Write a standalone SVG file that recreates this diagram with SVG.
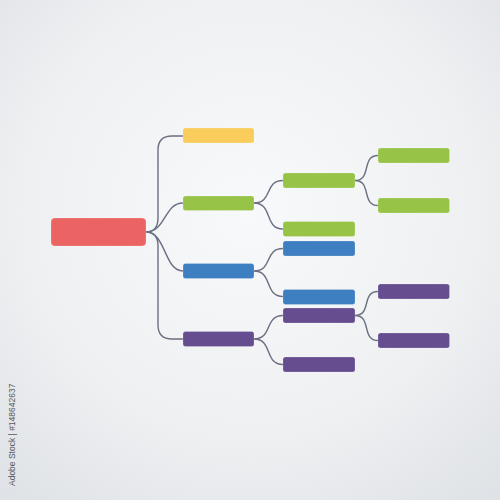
<svg xmlns="http://www.w3.org/2000/svg" width="500" height="500" viewBox="0 0 500 500">
<defs>
<radialGradient id="bg" cx="0.5" cy="0.42" r="0.75">
<stop offset="0" stop-color="#f8f9fb"/>
<stop offset="0.6" stop-color="#eef0f2"/>
<stop offset="1" stop-color="#dfe2e6"/>
</radialGradient>
<style>
.c{fill:none;stroke:#6c6f82;stroke-width:1.4}
.n{stroke:#ffffff;stroke-opacity:0.25;stroke-width:0.8}
.r{fill:#ec6364}
.y{fill:#f9cc5b}
.g{fill:#97c447}
.b{fill:#3d7fc0}
.p{fill:#654d8f}
.t{font-family:"Liberation Sans",Arial,sans-serif;font-size:8.5px;fill:#555a60}
</style>
</defs>
<rect width="500" height="500" fill="url(#bg)"/>
<g id="connectors">
<path class="c" d="M146,232 C154,232 158,228 158,218 L158,150 Q158,136 172,136 L183,136"/>
<path class="c" d="M146,232 C154,232 158,236 158,246 L158,325 Q158,339 172,339 L183,339"/>
<path class="c" d="M146,232 C166,232 164,203 183,203"/>
<path class="c" d="M146,232 C166,232 164,271 183,271"/>
<path class="c" d="M254,203 C273,203 264,180.5 283,180.5"/>
<path class="c" d="M254,203 C273,203 264,229 283,229"/>
<path class="c" d="M254,271 C273,271 264,248.5 283,248.5"/>
<path class="c" d="M254,271 C273,271 264,296.5 283,296.5"/>
<path class="c" d="M254,339 C273,339 264,315.5 283,315.5"/>
<path class="c" d="M254,339 C273,339 264,364.5 283,364.5"/>
<path class="c" d="M355,180.5 C372,180.5 361,155.5 378,155.5"/>
<path class="c" d="M355,180.5 C372,180.5 361,205.5 378,205.5"/>
<path class="c" d="M355,315.5 C372,315.5 361,291.5 378,291.5"/>
<path class="c" d="M355,315.5 C372,315.5 361,340.5 378,340.5"/>
</g>
<g id="root"><rect class="r n" x="51" y="218" width="95" height="28" rx="4"/></g>
<g id="yellow1"><rect class="y n" x="183" y="128" width="71" height="15" rx="2.5"/></g>
<g id="green1"><rect class="g n" x="183" y="196" width="71" height="14.5" rx="2.5"/></g>
<g id="blue1"><rect class="b n" x="183" y="263.5" width="71" height="15" rx="2.5"/></g>
<g id="purple1"><rect class="p n" x="183" y="331.5" width="71" height="15" rx="2.5"/></g>
<g id="green2a"><rect class="g n" x="283" y="173" width="72" height="15" rx="2.5"/></g>
<g id="green2b"><rect class="g n" x="283" y="221.5" width="72" height="15" rx="2.5"/></g>
<g id="blue2a"><rect class="b n" x="283" y="241" width="72" height="15" rx="2.5"/></g>
<g id="blue2b"><rect class="b n" x="283" y="289.5" width="72" height="15" rx="2.5"/></g>
<g id="purple2a"><rect class="p n" x="283" y="308" width="72" height="15" rx="2.5"/></g>
<g id="purple2b"><rect class="p n" x="283" y="357" width="72" height="15" rx="2.5"/></g>
<g id="green3a"><rect class="g n" x="378" y="148" width="71.5" height="15" rx="2.5"/></g>
<g id="green3b"><rect class="g n" x="378" y="198" width="71.5" height="15" rx="2.5"/></g>
<g id="purple3a"><rect class="p n" x="378" y="284" width="71.5" height="15" rx="2.5"/></g>
<g id="purple3b"><rect class="p n" x="378" y="333" width="71.5" height="15" rx="2.5"/></g>
<text class="t" transform="translate(15,486) rotate(-90)">Adobe Stock | #148642637</text>
</svg>
